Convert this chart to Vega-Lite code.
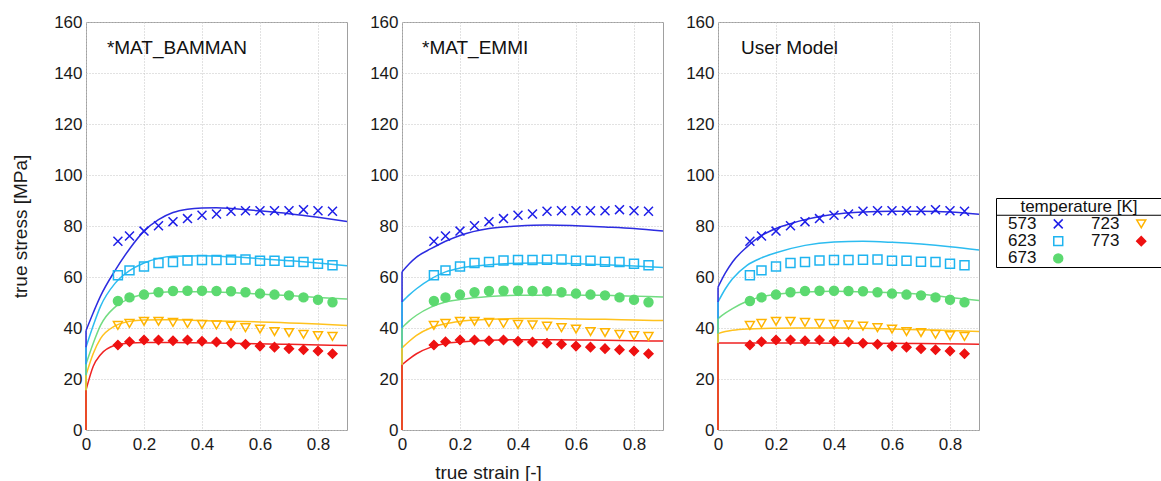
{
"$schema": "https://vega.github.io/schema/vega-lite/v6.json",
"background": "white",
"padding": {"left": 11, "top": 12, "right": 0, "bottom": 0},
"config": {
  "font": "Liberation Sans",
  "view": {"stroke": "#a0a0a0", "strokeWidth": 1},
  "axis": {"labelFont": "Liberation Sans", "labelFontSize": 17, "labelColor": "#1a1a1a", "titleFont": "Liberation Sans", "titleFontWeight": "normal", "titleFontSize": 19, "titleColor": "#1a1a1a", "grid": true, "gridColor": "#c4c4c4", "gridDash": [1, 2], "ticks": false, "domain": false, "labelFlush": false, "labelOverlap": false},
  "axisX": {"labelPadding": 6},
  "axisY": {"labelPadding": 4}
},
"datasets": {
  "exp": [
    {"T":"573","e":0.11,"s":74.0},{"T":"573","e":0.15,"s":76.1},{"T":"573","e":0.2,"s":78.0},{"T":"573","e":0.25,"s":80.1},{"T":"573","e":0.3,"s":81.7},{"T":"573","e":0.35,"s":82.9},{"T":"573","e":0.4,"s":84.2},{"T":"573","e":0.45,"s":84.7},{"T":"573","e":0.5,"s":85.8},{"T":"573","e":0.55,"s":86.0},{"T":"573","e":0.6,"s":86.0},{"T":"573","e":0.65,"s":86.0},{"T":"573","e":0.7,"s":86.0},{"T":"573","e":0.75,"s":86.4},{"T":"573","e":0.8,"s":86.0},{"T":"573","e":0.85,"s":85.8},
    {"T":"623","e":0.11,"s":60.7},{"T":"623","e":0.15,"s":62.6},{"T":"623","e":0.2,"s":64.1},{"T":"623","e":0.25,"s":65.5},{"T":"623","e":0.3,"s":65.9},{"T":"623","e":0.35,"s":66.5},{"T":"623","e":0.4,"s":66.7},{"T":"623","e":0.45,"s":66.7},{"T":"623","e":0.5,"s":66.8},{"T":"623","e":0.55,"s":66.9},{"T":"623","e":0.6,"s":66.4},{"T":"623","e":0.65,"s":66.4},{"T":"623","e":0.7,"s":66.0},{"T":"623","e":0.75,"s":65.9},{"T":"623","e":0.8,"s":65.2},{"T":"623","e":0.85,"s":64.6},
    {"T":"673","e":0.11,"s":50.6},{"T":"673","e":0.15,"s":52.0},{"T":"673","e":0.2,"s":53.1},{"T":"673","e":0.25,"s":54.0},{"T":"673","e":0.3,"s":54.5},{"T":"673","e":0.35,"s":54.6},{"T":"673","e":0.4,"s":54.6},{"T":"673","e":0.45,"s":54.5},{"T":"673","e":0.5,"s":54.4},{"T":"673","e":0.55,"s":54.0},{"T":"673","e":0.6,"s":53.5},{"T":"673","e":0.65,"s":53.1},{"T":"673","e":0.7,"s":52.8},{"T":"673","e":0.75,"s":52.0},{"T":"673","e":0.8,"s":51.1},{"T":"673","e":0.85,"s":50.1},
    {"T":"723","e":0.11,"s":41.0},{"T":"723","e":0.15,"s":41.8},{"T":"723","e":0.2,"s":42.6},{"T":"723","e":0.25,"s":42.6},{"T":"723","e":0.3,"s":42.2},{"T":"723","e":0.35,"s":41.8},{"T":"723","e":0.4,"s":41.4},{"T":"723","e":0.45,"s":41.2},{"T":"723","e":0.5,"s":40.7},{"T":"723","e":0.55,"s":40.1},{"T":"723","e":0.6,"s":39.6},{"T":"723","e":0.65,"s":38.6},{"T":"723","e":0.7,"s":38.2},{"T":"723","e":0.75,"s":37.5},{"T":"723","e":0.8,"s":37.0},{"T":"723","e":0.85,"s":36.7},
    {"T":"773","e":0.11,"s":33.3},{"T":"773","e":0.15,"s":34.6},{"T":"773","e":0.2,"s":35.3},{"T":"773","e":0.25,"s":35.3},{"T":"773","e":0.3,"s":35.0},{"T":"773","e":0.35,"s":35.3},{"T":"773","e":0.4,"s":34.8},{"T":"773","e":0.45,"s":34.5},{"T":"773","e":0.5,"s":34.0},{"T":"773","e":0.55,"s":33.6},{"T":"773","e":0.6,"s":32.9},{"T":"773","e":0.65,"s":32.5},{"T":"773","e":0.7,"s":31.9},{"T":"773","e":0.75,"s":31.5},{"T":"773","e":0.8,"s":31.0},{"T":"773","e":0.85,"s":29.9}
  ],
  "model": [
    {"m":"B","T":"573","e":0,"s":39},{"m":"B","T":"573","e":0.025,"s":46},{"m":"B","T":"573","e":0.05,"s":52.5},{"m":"B","T":"573","e":0.1,"s":62.5},{"m":"B","T":"573","e":0.15,"s":71},{"m":"B","T":"573","e":0.2,"s":78},{"m":"B","T":"573","e":0.25,"s":82.5},{"m":"B","T":"573","e":0.3,"s":85.3},{"m":"B","T":"573","e":0.35,"s":86.6},{"m":"B","T":"573","e":0.4,"s":87.1},{"m":"B","T":"573","e":0.45,"s":87.2},{"m":"B","T":"573","e":0.5,"s":86.9},{"m":"B","T":"573","e":0.55,"s":86.4},{"m":"B","T":"573","e":0.6,"s":85.9},{"m":"B","T":"573","e":0.7,"s":84.8},{"m":"B","T":"573","e":0.8,"s":83.4},{"m":"B","T":"573","e":0.9,"s":81.8},
    {"m":"B","T":"623","e":0,"s":32.5},{"m":"B","T":"623","e":0.025,"s":41},{"m":"B","T":"623","e":0.05,"s":48.5},{"m":"B","T":"623","e":0.1,"s":57.5},{"m":"B","T":"623","e":0.15,"s":62.5},{"m":"B","T":"623","e":0.2,"s":65.5},{"m":"B","T":"623","e":0.25,"s":67.3},{"m":"B","T":"623","e":0.3,"s":68.1},{"m":"B","T":"623","e":0.4,"s":68.3},{"m":"B","T":"623","e":0.5,"s":67.9},{"m":"B","T":"623","e":0.6,"s":67.2},{"m":"B","T":"623","e":0.7,"s":66.4},{"m":"B","T":"623","e":0.8,"s":65.5},{"m":"B","T":"623","e":0.9,"s":64.4},
    {"m":"B","T":"673","e":0,"s":25.8},{"m":"B","T":"673","e":0.025,"s":34},{"m":"B","T":"673","e":0.05,"s":41},{"m":"B","T":"673","e":0.1,"s":48.2},{"m":"B","T":"673","e":0.15,"s":51.5},{"m":"B","T":"673","e":0.2,"s":53.2},{"m":"B","T":"673","e":0.25,"s":53.9},{"m":"B","T":"673","e":0.3,"s":54.2},{"m":"B","T":"673","e":0.4,"s":54.2},{"m":"B","T":"673","e":0.5,"s":53.9},{"m":"B","T":"673","e":0.6,"s":53.3},{"m":"B","T":"673","e":0.7,"s":52.7},{"m":"B","T":"673","e":0.8,"s":52.0},{"m":"B","T":"673","e":0.9,"s":51.4},
    {"m":"B","T":"723","e":0,"s":21.5},{"m":"B","T":"723","e":0.025,"s":30},{"m":"B","T":"723","e":0.05,"s":35.8},{"m":"B","T":"723","e":0.1,"s":40.8},{"m":"B","T":"723","e":0.15,"s":42.6},{"m":"B","T":"723","e":0.2,"s":43.1},{"m":"B","T":"723","e":0.3,"s":43.2},{"m":"B","T":"723","e":0.4,"s":42.9},{"m":"B","T":"723","e":0.5,"s":42.6},{"m":"B","T":"723","e":0.6,"s":42.4},{"m":"B","T":"723","e":0.7,"s":42.0},{"m":"B","T":"723","e":0.8,"s":41.6},{"m":"B","T":"723","e":0.9,"s":41.0},
    {"m":"B","T":"773","e":0,"s":15.6},{"m":"B","T":"773","e":0.025,"s":25},{"m":"B","T":"773","e":0.05,"s":29.5},{"m":"B","T":"773","e":0.1,"s":33.2},{"m":"B","T":"773","e":0.15,"s":34.1},{"m":"B","T":"773","e":0.2,"s":34.3},{"m":"B","T":"773","e":0.3,"s":34.3},{"m":"B","T":"773","e":0.5,"s":34.0},{"m":"B","T":"773","e":0.7,"s":33.6},{"m":"B","T":"773","e":0.9,"s":33.1},
    {"m":"E","T":"573","e":0,"s":62},{"m":"E","T":"573","e":0.025,"s":65.2},{"m":"E","T":"573","e":0.05,"s":67.8},{"m":"E","T":"573","e":0.1,"s":71.1},{"m":"E","T":"573","e":0.15,"s":74},{"m":"E","T":"573","e":0.2,"s":76.3},{"m":"E","T":"573","e":0.3,"s":79},{"m":"E","T":"573","e":0.4,"s":80},{"m":"E","T":"573","e":0.5,"s":80.4},{"m":"E","T":"573","e":0.6,"s":80.1},{"m":"E","T":"573","e":0.7,"s":79.6},{"m":"E","T":"573","e":0.8,"s":79},{"m":"E","T":"573","e":0.9,"s":78},
    {"m":"E","T":"623","e":0,"s":50.2},{"m":"E","T":"623","e":0.025,"s":53},{"m":"E","T":"623","e":0.05,"s":55.4},{"m":"E","T":"623","e":0.1,"s":59.3},{"m":"E","T":"623","e":0.15,"s":62},{"m":"E","T":"623","e":0.2,"s":63.5},{"m":"E","T":"623","e":0.3,"s":64.8},{"m":"E","T":"623","e":0.4,"s":65.4},{"m":"E","T":"623","e":0.5,"s":65.5},{"m":"E","T":"623","e":0.6,"s":65.2},{"m":"E","T":"623","e":0.7,"s":64.8},{"m":"E","T":"623","e":0.8,"s":64.3},{"m":"E","T":"623","e":0.9,"s":63.7},
    {"m":"E","T":"673","e":0,"s":40.1},{"m":"E","T":"673","e":0.025,"s":42.8},{"m":"E","T":"673","e":0.05,"s":45},{"m":"E","T":"673","e":0.1,"s":48.2},{"m":"E","T":"673","e":0.15,"s":50.2},{"m":"E","T":"673","e":0.2,"s":51.2},{"m":"E","T":"673","e":0.3,"s":52.4},{"m":"E","T":"673","e":0.4,"s":52.8},{"m":"E","T":"673","e":0.5,"s":52.9},{"m":"E","T":"673","e":0.6,"s":52.9},{"m":"E","T":"673","e":0.7,"s":52.8},{"m":"E","T":"673","e":0.8,"s":52.5},{"m":"E","T":"673","e":0.9,"s":52.2},
    {"m":"E","T":"723","e":0,"s":32.2},{"m":"E","T":"723","e":0.025,"s":34.8},{"m":"E","T":"723","e":0.05,"s":37.1},{"m":"E","T":"723","e":0.1,"s":40.1},{"m":"E","T":"723","e":0.15,"s":41.7},{"m":"E","T":"723","e":0.2,"s":42.6},{"m":"E","T":"723","e":0.3,"s":43.4},{"m":"E","T":"723","e":0.4,"s":43.7},{"m":"E","T":"723","e":0.5,"s":43.7},{"m":"E","T":"723","e":0.6,"s":43.5},{"m":"E","T":"723","e":0.7,"s":43.4},{"m":"E","T":"723","e":0.8,"s":43.1},{"m":"E","T":"723","e":0.9,"s":42.9},
    {"m":"E","T":"773","e":0,"s":25.6},{"m":"E","T":"773","e":0.025,"s":27.9},{"m":"E","T":"773","e":0.05,"s":29.9},{"m":"E","T":"773","e":0.1,"s":32.5},{"m":"E","T":"773","e":0.15,"s":33.9},{"m":"E","T":"773","e":0.2,"s":34.5},{"m":"E","T":"773","e":0.3,"s":35.2},{"m":"E","T":"773","e":0.4,"s":35.4},{"m":"E","T":"773","e":0.5,"s":35.4},{"m":"E","T":"773","e":0.6,"s":35.3},{"m":"E","T":"773","e":0.7,"s":35.2},{"m":"E","T":"773","e":0.8,"s":35.0},{"m":"E","T":"773","e":0.9,"s":34.9},
    {"m":"U","T":"573","e":0,"s":56},{"m":"U","T":"573","e":0.025,"s":61.5},{"m":"U","T":"573","e":0.05,"s":65.9},{"m":"U","T":"573","e":0.1,"s":71.8},{"m":"U","T":"573","e":0.15,"s":76.3},{"m":"U","T":"573","e":0.2,"s":79},{"m":"U","T":"573","e":0.25,"s":80.9},{"m":"U","T":"573","e":0.3,"s":82.5},{"m":"U","T":"573","e":0.4,"s":84.6},{"m":"U","T":"573","e":0.5,"s":85.5},{"m":"U","T":"573","e":0.6,"s":85.8},{"m":"U","T":"573","e":0.7,"s":85.8},{"m":"U","T":"573","e":0.8,"s":85.5},{"m":"U","T":"573","e":0.9,"s":84.6},
    {"m":"U","T":"623","e":0,"s":50.2},{"m":"U","T":"623","e":0.025,"s":55.3},{"m":"U","T":"623","e":0.05,"s":59.3},{"m":"U","T":"623","e":0.1,"s":64.6},{"m":"U","T":"623","e":0.15,"s":67.5},{"m":"U","T":"623","e":0.2,"s":69.5},{"m":"U","T":"623","e":0.3,"s":72.4},{"m":"U","T":"623","e":0.4,"s":73.7},{"m":"U","T":"623","e":0.5,"s":74},{"m":"U","T":"623","e":0.6,"s":73.6},{"m":"U","T":"623","e":0.7,"s":72.9},{"m":"U","T":"623","e":0.8,"s":71.9},{"m":"U","T":"623","e":0.9,"s":70.6},
    {"m":"U","T":"673","e":0,"s":43.7},{"m":"U","T":"673","e":0.025,"s":45.8},{"m":"U","T":"673","e":0.05,"s":47.6},{"m":"U","T":"673","e":0.1,"s":50.5},{"m":"U","T":"673","e":0.15,"s":52.2},{"m":"U","T":"673","e":0.2,"s":53.2},{"m":"U","T":"673","e":0.3,"s":54.1},{"m":"U","T":"673","e":0.4,"s":54.4},{"m":"U","T":"673","e":0.5,"s":54.2},{"m":"U","T":"673","e":0.6,"s":53.9},{"m":"U","T":"673","e":0.7,"s":53.2},{"m":"U","T":"673","e":0.8,"s":52.0},{"m":"U","T":"673","e":0.9,"s":50.8},
    {"m":"U","T":"723","e":0,"s":37.8},{"m":"U","T":"723","e":0.025,"s":38.6},{"m":"U","T":"723","e":0.05,"s":39.1},{"m":"U","T":"723","e":0.1,"s":39.6},{"m":"U","T":"723","e":0.2,"s":39.9},{"m":"U","T":"723","e":0.3,"s":40.0},{"m":"U","T":"723","e":0.4,"s":40.0},{"m":"U","T":"723","e":0.5,"s":39.9},{"m":"U","T":"723","e":0.6,"s":39.6},{"m":"U","T":"723","e":0.7,"s":39.3},{"m":"U","T":"723","e":0.8,"s":39.0},{"m":"U","T":"723","e":0.9,"s":38.6},
    {"m":"U","T":"773","e":0,"s":34.1},{"m":"U","T":"773","e":0.1,"s":34.1},{"m":"U","T":"773","e":0.3,"s":34.1},{"m":"U","T":"773","e":0.5,"s":34.0},{"m":"U","T":"773","e":0.7,"s":33.9},{"m":"U","T":"773","e":0.9,"s":33.6}
  ],
  "legend": [
    {"T":"573","col":"c1","row":"1"},{"T":"623","col":"c1","row":"2"},{"T":"673","col":"c1","row":"3"},{"T":"723","col":"c2","row":"1"},{"T":"773","col":"c2","row":"2"}
  ]
},
"spacing": 12,
"hconcat": [
  {
    "spacing": 18,
    "hconcat": [
      {
        "width": 261, "height": 408,
        "layer": [
          {"data": {"name": "model"}, "transform": [{"filter": "datum.m == 'B'"}],
           "mark": {"type": "line", "strokeWidth": 1.5, "interpolate": "monotone"},
           "encoding": {
             "x": {"field": "e", "type": "quantitative", "scale": {"domain": [0, 0.9], "nice": false, "zero": false}, "axis": {"values": [0,0.1,0.2,0.3,0.4,0.5,0.6,0.7,0.8,0.9], "format": "~g", "labelExpr": "(datum.value > 0.85 || round(datum.value*10) % 2 == 1) ? '' : datum.label", "title": null}},
             "y": {"field": "s", "type": "quantitative", "scale": {"domain": [0, 160], "nice": false}, "axis": {"values": [0,20,40,60,80,100,120,140,160], "title": "true stress [MPa]", "titlePadding": 23}},
             "color": {"field": "T", "type": "nominal", "scale": {"domain": ["573","623","673","723","773"], "range": ["#2c2ce0","#2cbcf0","#72dc82","#ffc21e","#f02222"]}, "legend": null}
           }},
          {"data": {"name": "model"}, "transform": [{"filter": "datum.m == 'B' && datum.e == 0"}],
           "mark": {"type": "rule", "strokeWidth": 1.5},
           "encoding": {"x": {"field": "e", "type": "quantitative"}, "y": {"field": "s", "type": "quantitative"}, "y2": {"datum": 0}, "color": {"field": "T", "type": "nominal", "legend": null}}},
          {"data": {"name": "exp"}, "mark": {"type": "point", "opacity": 1, "strokeWidth": 1.5, "size": 80},
           "encoding": {
             "x": {"field": "e", "type": "quantitative"}, "y": {"field": "s", "type": "quantitative"},
             "shape": {"field": "T", "type": "nominal", "scale": {"domain": ["573","623","673","723","773"], "range": ["M-1,-1L1,1M1,-1L-1,1","square","circle","triangle-down","diamond"]}, "legend": null},
             "stroke": {"field": "T", "type": "nominal", "scale": {"domain": ["573","623","673","723","773"], "range": ["#1e1ee8","#1eb4f0","#5cd970","#ffb400","#ee1111"]}, "legend": null},
             "fill": {"field": "T", "type": "nominal", "scale": {"domain": ["573","623","673","723","773"], "range": ["transparent","transparent","#5cd970","transparent","#ee1111"]}, "legend": null}
           }},
          {"data": {"values": [{"label": "*MAT_BAMMAN"}]}, "mark": {"type": "text", "align": "left", "baseline": "middle", "fontSize": 19, "font": "Liberation Sans", "color": "#111"},
           "encoding": {"x": {"datum": 0.072, "type": "quantitative"}, "y": {"datum": 150, "type": "quantitative"}, "text": {"field": "label"}}}
        ]
      },
      {
        "width": 261, "height": 408,
        "layer": [
          {"data": {"name": "model"}, "transform": [{"filter": "datum.m == 'E'"}],
           "mark": {"type": "line", "strokeWidth": 1.5, "interpolate": "monotone"},
           "encoding": {
             "x": {"field": "e", "type": "quantitative", "scale": {"domain": [0, 0.9], "nice": false, "zero": false}, "axis": {"values": [0,0.1,0.2,0.3,0.4,0.5,0.6,0.7,0.8,0.9], "format": "~g", "labelExpr": "(datum.value > 0.85 || round(datum.value*10) % 2 == 1) ? '' : datum.label", "title": "true strain [-]", "titlePadding": 11, "titleX": 86}},
             "y": {"field": "s", "type": "quantitative", "scale": {"domain": [0, 160], "nice": false}, "axis": {"values": [0,20,40,60,80,100,120,140,160], "title": null}},
             "color": {"field": "T", "type": "nominal", "scale": {"domain": ["573","623","673","723","773"], "range": ["#2c2ce0","#2cbcf0","#72dc82","#ffc21e","#f02222"]}, "legend": null}
           }},
          {"data": {"name": "model"}, "transform": [{"filter": "datum.m == 'E' && datum.e == 0"}],
           "mark": {"type": "rule", "strokeWidth": 1.5},
           "encoding": {"x": {"field": "e", "type": "quantitative"}, "y": {"field": "s", "type": "quantitative"}, "y2": {"datum": 0}, "color": {"field": "T", "type": "nominal", "legend": null}}},
          {"data": {"name": "exp"}, "mark": {"type": "point", "opacity": 1, "strokeWidth": 1.5, "size": 80},
           "encoding": {
             "x": {"field": "e", "type": "quantitative"}, "y": {"field": "s", "type": "quantitative"},
             "shape": {"field": "T", "type": "nominal", "legend": null},
             "stroke": {"field": "T", "type": "nominal", "legend": null},
             "fill": {"field": "T", "type": "nominal", "legend": null}
           }},
          {"data": {"values": [{"label": "*MAT_EMMI"}]}, "mark": {"type": "text", "align": "left", "baseline": "middle", "fontSize": 19, "font": "Liberation Sans", "color": "#111"},
           "encoding": {"x": {"datum": 0.069, "type": "quantitative"}, "y": {"datum": 150, "type": "quantitative"}, "text": {"field": "label"}}}
        ]
      },
      {
        "width": 261, "height": 408,
        "layer": [
          {"data": {"name": "model"}, "transform": [{"filter": "datum.m == 'U'"}],
           "mark": {"type": "line", "strokeWidth": 1.5, "interpolate": "monotone"},
           "encoding": {
             "x": {"field": "e", "type": "quantitative", "scale": {"domain": [0, 0.9], "nice": false, "zero": false}, "axis": {"values": [0,0.1,0.2,0.3,0.4,0.5,0.6,0.7,0.8,0.9], "format": "~g", "labelExpr": "(datum.value > 0.85 || round(datum.value*10) % 2 == 1) ? '' : datum.label", "title": null}},
             "y": {"field": "s", "type": "quantitative", "scale": {"domain": [0, 160], "nice": false}, "axis": {"values": [0,20,40,60,80,100,120,140,160], "title": null}},
             "color": {"field": "T", "type": "nominal", "scale": {"domain": ["573","623","673","723","773"], "range": ["#2c2ce0","#2cbcf0","#72dc82","#ffc21e","#f02222"]}, "legend": null}
           }},
          {"data": {"name": "model"}, "transform": [{"filter": "datum.m == 'U' && datum.e == 0"}],
           "mark": {"type": "rule", "strokeWidth": 1.5},
           "encoding": {"x": {"field": "e", "type": "quantitative"}, "y": {"field": "s", "type": "quantitative"}, "y2": {"datum": 0}, "color": {"field": "T", "type": "nominal", "legend": null}}},
          {"data": {"name": "exp"}, "mark": {"type": "point", "opacity": 1, "strokeWidth": 1.5, "size": 80},
           "encoding": {
             "x": {"field": "e", "type": "quantitative"}, "y": {"field": "s", "type": "quantitative"},
             "shape": {"field": "T", "type": "nominal", "legend": null},
             "stroke": {"field": "T", "type": "nominal", "legend": null},
             "fill": {"field": "T", "type": "nominal", "legend": null}
           }},
          {"data": {"values": [{"label": "User Model"}]}, "mark": {"type": "text", "align": "left", "baseline": "middle", "fontSize": 19, "font": "Liberation Sans", "color": "#111"},
           "encoding": {"x": {"datum": 0.079, "type": "quantitative"}, "y": {"datum": 150, "type": "quantitative"}, "text": {"field": "label"}}}
        ]
      }
    ]
  },
  {
    "spacing": 0,
    "vconcat": [
      {"width": 166, "height": 175, "view": {"stroke": null}, "data": {"values": [{"a": 1}]}, "mark": {"type": "point", "opacity": 0}, "encoding": {}},
      {
        "width": 166, "height": 69, "view": {"stroke": "#000", "strokeWidth": 1},
        "layer": [
          {"data": {"values": [{"title": "temperature [K]", "r": "t"}]}, "mark": {"type": "text", "fontSize": 17, "baseline": "middle", "font": "Liberation Sans", "color": "#111"},
           "encoding": {"y": {"field": "r", "type": "nominal", "scale": {"type": "band", "domain": ["t","1","2","3"], "paddingInner": 0, "paddingOuter": 0}, "axis": null}, "text": {"field": "title"}}},
          {"data": {"values": [{"r": "1"}]}, "mark": {"type": "rule", "color": "#000", "strokeWidth": 1},
           "encoding": {"y": {"field": "r", "type": "nominal", "bandPosition": 0}}},
          {"data": {"name": "legend"}, "mark": {"type": "text", "align": "left", "baseline": "middle", "dx": 12, "fontSize": 17, "font": "Liberation Sans", "color": "#111"},
           "encoding": {"x": {"field": "col", "type": "nominal", "scale": {"type": "band", "domain": ["c1","c2"], "paddingInner": 0, "paddingOuter": 0}, "axis": null, "bandPosition": 0}, "y": {"field": "row", "type": "nominal"}, "text": {"field": "T"}}},
          {"data": {"name": "legend"}, "mark": {"type": "point", "opacity": 1, "strokeWidth": 1.5, "size": 80},
           "encoding": {"x": {"field": "col", "type": "nominal", "bandPosition": 0.75}, "y": {"field": "row", "type": "nominal"},
             "shape": {"field": "T", "type": "nominal", "legend": null},
             "stroke": {"field": "T", "type": "nominal", "legend": null},
             "fill": {"field": "T", "type": "nominal", "legend": null}}}
        ]
      }
    ]
  }
]
}
